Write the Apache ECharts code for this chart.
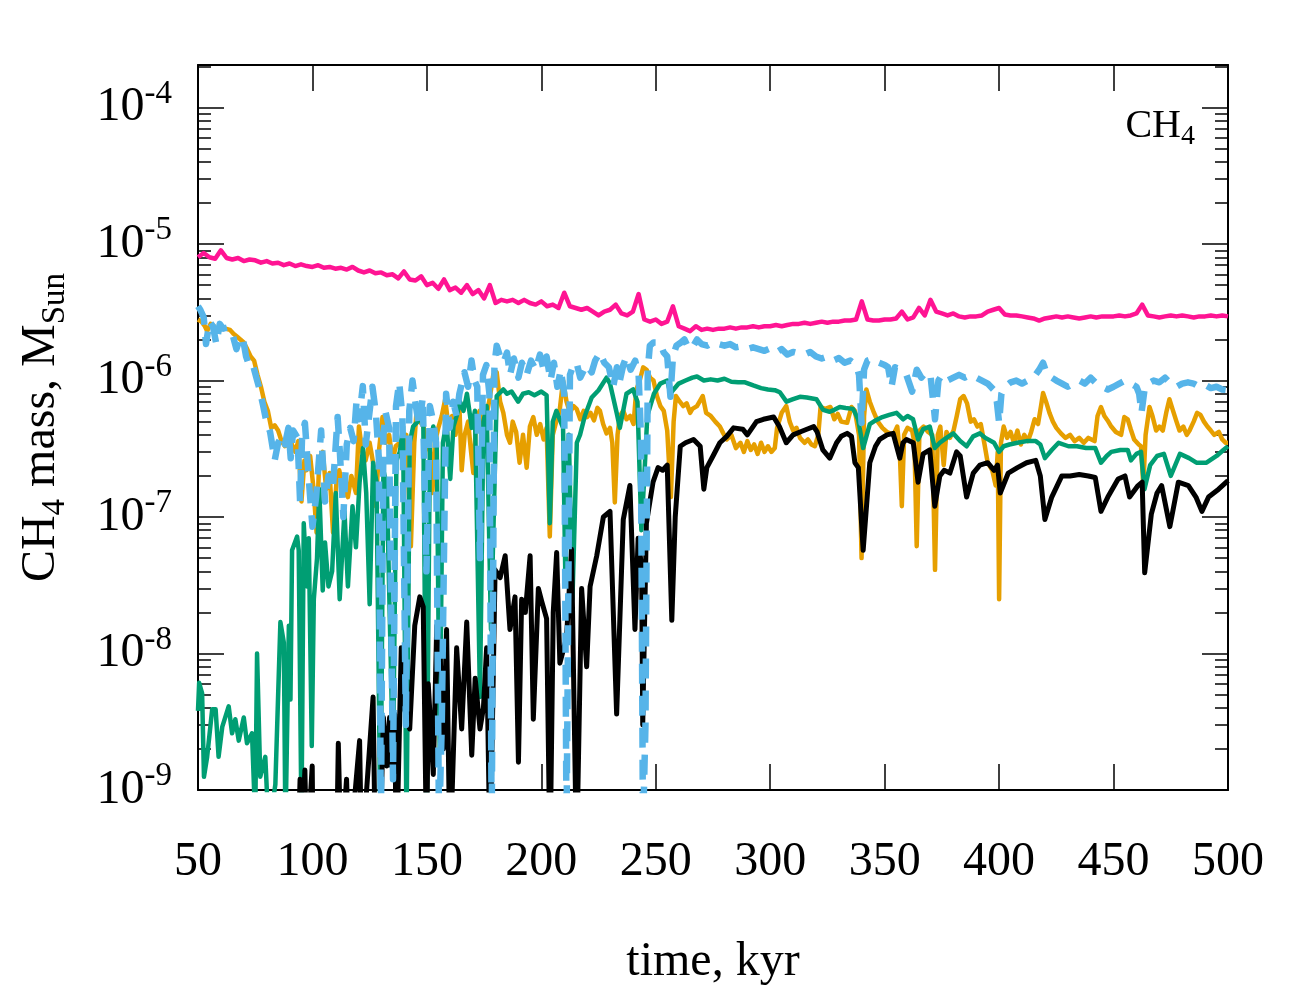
<!DOCTYPE html>
<html><head><meta charset="utf-8">
<script src="https://cdn.jsdelivr.net/npm/echarts@6.0.0/dist/echarts.min.js"></script>
<style>html,body{margin:0;padding:0;background:#fff}#c{width:1300px;height:1000px}</style>
</head><body><div id="c"></div>
<script>
// ---- tick values ----
const xTicks = [50,100,150,200,250,300,350,400,450,500];
const yDecades = [-9,-8,-7,-6,-5,-4]; // exponents of 10
const yTopValue = 2.05e-4;

// ---- series values: [time kyr, CH4 mass M_Sun] ----
const pinkData = [[50,8.0e-6],[52.5,8.6e-6],[55,8.0e-6],[57.5,7.8e-6],[60,9.0e-6],[62.5,7.9e-6],[65,7.7e-6],[67.5,7.9e-6],[70,7.5e-6],[72.5,7.7e-6],
[75,7.6e-6],[77.5,7.3e-6],[80,7.5e-6],[82.5,7.2e-6],[85,7.3e-6],[87.5,7.0e-6],[90,7.2e-6],[92.5,6.9e-6],[95,7.1e-6],[97.5,6.9e-6],
[100,6.8e-6],[102.5,7.0e-6],[105,6.7e-6],[107.5,6.8e-6],[110,6.6e-6],[112.5,6.7e-6],[115,6.5e-6],[117.5,6.8e-6],[120,6.4e-6],[122.5,6.2e-6],
[125,6.4e-6],[127.5,6.1e-6],[130,6.2e-6],[132.5,5.9e-6],[135,6.0e-6],[137.5,5.6e-6],[140,6.3e-6],[142.5,5.5e-6],[145,5.4e-6],[147.5,5.8e-6],
[150,5.0e-6],[152.5,5.2e-6],[155,4.7e-6],[157.5,5.5e-6],[160,4.6e-6],[162.5,4.8e-6],[165,4.4e-6],[167.5,5.0e-6],[170,4.3e-6],[172.5,4.6e-6],
[175,4.0e-6],[177.5,5.0e-6],[180,3.7e-6],[182.5,3.9e-6],[185,3.8e-6],[187.5,3.9e-6],[190,3.7e-6],[192.5,3.9e-6],[195,3.7e-6],[197.5,3.6e-6],
[200,3.8e-6],[202.5,3.5e-6],[205,3.6e-6],[207.5,3.4e-6],[210,4.4e-6],[212.5,3.5e-6],[215,3.4e-6],[217.5,3.3e-6],[220,3.4e-6],[222.5,3.2e-6],
[225,3.0e-6],[227.5,3.2e-6],[230,3.3e-6],[232.5,3.6e-6],[235,3.1e-6],[237.5,3.0e-6],[240,3.2e-6],[242.5,4.3e-6],[245,2.8e-6],[247.5,2.7e-6],
[250,2.8e-6],[252.5,2.6e-6],[255,2.7e-6],[257.5,3.5e-6],[260,2.5e-6],[262.5,2.4e-6],[265,2.3e-6],[267.5,2.5e-6],[270,2.35e-6],[272.5,2.4e-6],
[275,2.35e-6],[277.5,2.4e-6],[280,2.4e-6],[282.5,2.45e-6],[285,2.4e-6],[287.5,2.45e-6],[290,2.45e-6],[292.5,2.5e-6],[295,2.45e-6],[297.5,2.5e-6],
[300,2.5e-6],[302.5,2.55e-6],[305,2.5e-6],[307.5,2.55e-6],[310,2.6e-6],[312.5,2.6e-6],[315,2.65e-6],[317.5,2.6e-6],[320,2.65e-6],[322.5,2.7e-6],
[325,2.65e-6],[327.5,2.7e-6],[330,2.7e-6],[332.5,2.75e-6],[335,2.75e-6],[337.5,2.8e-6],[340,3.8e-6],[342.5,2.8e-6],[345,2.75e-6],[347.5,2.75e-6],
[350,2.8e-6],[352.5,2.8e-6],[355,2.85e-6],[357.5,3.2e-6],[360,2.8e-6],[362.5,2.9e-6],[365,3.4e-6],[367.5,3.0e-6],[370,3.9e-6],[372.5,3.2e-6],
[375,3.1e-6],[377.5,3.0e-6],[380,3.1e-6],[382.5,2.95e-6],[385,2.9e-6],[387.5,2.95e-6],[390,2.95e-6],[392.5,3.0e-6],[395,3.2e-6],[397.5,3.3e-6],
[400,3.4e-6],[402.5,3.05e-6],[405,3.0e-6],[407.5,3.0e-6],[410,2.95e-6],[412.5,2.9e-6],[415,2.85e-6],[417.5,2.75e-6],[420,2.85e-6],[422.5,2.9e-6],
[425,2.95e-6],[427.5,2.9e-6],[430,2.95e-6],[432.5,2.9e-6],[435,2.85e-6],[437.5,2.9e-6],[440,2.95e-6],[442.5,2.9e-6],[445,2.95e-6],[447.5,2.95e-6],
[450,2.95e-6],[452.5,3.0e-6],[455,2.95e-6],[457.5,3.0e-6],[460,3.1e-6],[462.5,3.6e-6],[465,3.0e-6],[467.5,2.95e-6],[470,2.9e-6],[472.5,2.95e-6],
[475,3.0e-6],[477.5,2.95e-6],[480,3.0e-6],[482.5,2.95e-6],[485,2.9e-6],[487.5,2.95e-6],[490,2.95e-6],[492.5,3.0e-6],[495,2.95e-6],[497.5,3.0e-6],[500,2.95e-6]];

const blueData = [[50,3.5e-6],[51,3.3e-6],[52.5,2.9e-6],[53.5,1.85e-6],[55,2.7e-6],[56.5,2.5e-6],[58,1.85e-6],[59.5,2.6e-6],[61,2.4e-6],[63,2.45e-6],
[65,2.2e-6],[66.8,1.7e-6],[68.5,2.1e-6],[69.7,2.0e-6],[71,1.5e-6],[72.5,1.27e-6],[74,1.3e-6],[75.5,1.05e-6],[77,8.5e-7],[78.5,6.5e-7],
[80,4.9e-7],[81.5,4.2e-7],[83.5,2.6e-7],[85,3.5e-7],[86.5,3.9e-7],[88,3.4e-7],[89.5,4.5e-7],[90.5,2.7e-7],[91.6,4.3e-7],[93.5,3.8e-7],
[94.6,1.3e-7],[95.5,4.0e-7],[96.7,4.9e-7],[98.5,1.8e-7],[100,8.5e-8],[101.6,1.4e-7],[103.8,4.3e-7],[105.5,1.3e-7],[107,2.0e-7],[108.9,1.6e-7],
[111,5.4e-7],[112,2.95e-7],[113.5,1.0e-7],[115,3.4e-7],[116.5,4.5e-7],[118,3.6e-7],[119.3,7.2e-7],[120.4,5.2e-7],[122,9.1e-7],[123.3,3.4e-7],
[125,6.0e-7],[126.2,9.0e-7],[127.7,5.8e-7],[129,2.7e-7],[129.9,5e-10],[131,4.0e-7],[132,5.8e-7],[133.5,4.5e-7],[135.2,1.2e-9],[136.5,6.5e-7],
[137.9,9.7e-7],[139.3,5.5e-7],[140.8,3e-9],[142.3,6.0e-7],[143.7,1.0e-6],[145.2,6.5e-7],[146.6,4.6e-7],[148.2,7.5e-7],[149.8,4e-8],[151.3,6.5e-7],
[152.8,5.0e-7],[154,3.5e-7],[155.3,5e-10],[156.5,3e-9],[158.4,8.0e-7],[160,4.5e-7],[161.5,7.0e-7],[163,5.5e-7],[164.2,8.0e-7],[166.4,1.15e-6],
[168,9.0e-7],[169.5,1.4e-6],[170.8,1.0e-6],[172,9e-7],[173.2,5e-8],[174.5,1.1e-6],[176,1.3e-6],[177.3,8e-7],[178.3,5e-10],[179.5,1.3e-6],
[180.5,1.8e-6],[182,1.5e-6],[183.4,1.35e-6],[185,1.6e-6],[186.3,1.1e-6],[188,1.45e-6],[190,1.05e-6],[191.5,1.35e-6],[193.6,1.1e-6],[195.5,1.4e-6],
[197.5,1.2e-6],[199.4,1.55e-6],[201,1.2e-6],[202.3,1.5e-6],[204,1.0e-6],[205.5,1.35e-6],[207,9e-7],[208.5,1.2e-6],[210,8e-7],[211,5e-10],
[212.5,1.1e-6],[214,1.3e-6],[215.4,1.35e-6],[217,1.05e-6],[219.7,1.3e-6],[222,1.15e-6],[223.5,1.4e-6],[225.6,1.6e-6],[227.5,1.35e-6],[229.5,1.25e-6],
[231.4,9e-7],[233,1.25e-6],[234.3,1.0e-6],[235.8,1.3e-6],[237.2,1.5e-6],[239,1.2e-6],[241,1.4e-6],[242.5,1.1e-6],[243.5,4e-7],[244.4,5e-10],
[245.5,3e-9],[246.5,1.2e-6],[247.4,1.8e-6],[249,1.9e-6],[251.7,1.9e-6],[253.5,1.6e-6],[255,1.5e-6],[256.4,7.6e-7],[257.5,1.5e-6],[259,1.8e-6],
[261,1.9e-6],[262.5,2.0e-6],[264.5,1.7e-6],[266.5,1.8e-6],[268,2.0e-6],[270,1.85e-6],[272.5,1.8e-6],[275,1.9e-6],[277.5,1.85e-6],[280,1.8e-6],
[282.5,1.85e-6],[285,1.75e-6],[287.5,1.78e-6],[290,1.7e-6],[292.5,1.75e-6],[295,1.7e-6],[297.5,1.65e-6],[300,1.72e-6],[302.5,1.6e-6],[305,1.7e-6],
[307.5,1.55e-6],[310,1.62e-6],[312.5,1.58e-6],[315,1.55e-6],[317.5,1.62e-6],[320,1.5e-6],[322.5,1.45e-6],[325,1.5e-6],[327.5,1.4e-6],[330,1.46e-6],
[332.5,1.35e-6],[335,1.4e-6],[337.5,1.3e-6],[338.8,1.1e-6],[339.9,4.9e-7],[341,1.2e-6],[342.5,1.4e-6],[345,1.45e-6],[347.5,1.35e-6],[350,1.3e-6],
[351.5,1.25e-6],[353,9e-7],[354.5,1.25e-6],[357,1.2e-6],[359.5,1.1e-6],[362,8.3e-7],[364,1.2e-6],[366,1.05e-6],[368,1.15e-6],[370,1.1e-6],
[372,5.2e-7],[373.5,1.0e-6],[375,1.1e-6],[377.5,1.0e-6],[380,1.05e-6],[382.5,1.1e-6],[385,1.05e-6],[387.5,1.1e-6],[390,1.05e-6],[392.5,1.0e-6],
[395,9.5e-7],[397.5,8.6e-7],[399,7e-7],[400,4.9e-7],[401,8e-7],[402.5,9e-7],[405,9.7e-7],[407.5,1.0e-6],[410,9.5e-7],[412.5,1.0e-6],
[415,1.05e-6],[417.5,1.2e-6],[419.2,1.35e-6],[421,1.1e-6],[423,1.05e-6],[425,1.0e-6],[427.5,9.5e-7],[430,9e-7],[432.5,9.5e-7],[435,1.0e-6],
[437.5,9.5e-7],[440,1.05e-6],[442.5,9.5e-7],[445,9e-7],[447.5,8.6e-7],[450,9e-7],[452.5,9.5e-7],[455,1.0e-6],[457.5,9.5e-7],[460,9e-7],
[461.2,8e-7],[462.2,5.8e-7],[463.5,8.5e-7],[465,9.5e-7],[467.5,1.0e-6],[470,9.7e-7],[472.5,1.05e-6],[475,9.5e-7],[477.5,9e-7],[480,9.5e-7],
[482.5,9.7e-7],[485,9.5e-7],[487.5,9e-7],[490,9.3e-7],[492.5,8.8e-7],[495,9e-7],[497.5,8.6e-7],[500,8.5e-7]];

const orangeData = [[50,2.8e-6],[51.5,2.7e-6],[53,2.5e-6],[54,2.3e-6],[55.5,2.6e-6],[57,2.5e-6],[58.5,2.3e-6],[60,2.45e-6],[62,2.4e-6],[64,2.35e-6],
[65.5,2.2e-6],[67,2.1e-6],[68.5,2.0e-6],[70,1.9e-6],[71.5,1.7e-6],[73,1.5e-6],[74.5,1.4e-6],[76,1.1e-6],[77.5,9e-7],[79,7e-7],
[80.5,6e-7],[82,4.5e-7],[83.5,4.7e-7],[85,4.3e-7],[86.5,3.6e-7],[88,3.3e-7],[89.5,4.0e-7],[91,3.4e-7],[92.5,3.0e-7],[93.8,3.6e-7],
[95.2,1.3e-7],[96.5,2.6e-7],[97.4,2.2e-7],[99,2.8e-7],[100.5,1.6e-7],[101.8,7.7e-8],[103,2.7e-7],[104.5,3.0e-7],[106,1.6e-7],[107.5,2.1e-7],
[109,7.7e-8],[110.5,1.8e-7],[111.7,2.2e-7],[113.5,1.6e-7],[115.5,1.4e-7],[117,2.0e-7],[119,1.5e-7],[120.3,4.6e-7],[121.8,3.0e-7],[123.2,2.6e-7],
[125,3.5e-7],[126.5,2.5e-7],[127.7,1.2e-7],[129,3.0e-7],[130.6,5.4e-7],[132,3.5e-7],[133.5,4.0e-7],[135,2.6e-7],[136.4,3.3e-7],[138,3.5e-7],
[139.3,3.2e-7],[141,4.0e-7],[143,6.1e-8],[144.5,3.5e-7],[145.5,6.0e-7],[147,5.0e-7],[148.5,4.6e-7],[150,3.5e-7],[151.3,3.0e-7],[152.4,1.5e-7],
[153.5,3.5e-7],[155,4.5e-7],[156.5,5.5e-7],[158,7.3e-7],[159.5,4.5e-7],[161,5.5e-7],[162.5,4.0e-7],[164.2,6.5e-7],[165.2,2.2e-7],[166.5,4.0e-7],
[168,5.0e-7],[169.3,3.0e-7],[170.3,2.1e-7],[171.5,5.0e-7],[173,6.0e-7],[174.5,4.5e-7],[176,5.5e-7],[177.5,7.5e-7],[179,1.1e-6],[180.5,1.15e-6],
[182,7.0e-7],[183.4,5.8e-7],[185,4.0e-7],[186.3,3.5e-7],[187.5,5.0e-7],[189,4.2e-7],[190.5,2.5e-7],[192,4.0e-7],[193.6,2.3e-7],[195,4.6e-7],
[196.5,5.4e-7],[198,4.0e-7],[199.5,4.8e-7],[201,3.7e-7],[202.3,4.5e-7],[203.7,7.2e-8],[205,4.0e-7],[206.5,5.0e-7],[208,6.0e-7],[209.5,1.0e-6],
[211,7.0e-7],[212.5,5.8e-7],[214,6.5e-7],[215.4,6.2e-7],[217,5.2e-7],[218.5,6.0e-7],[220,5.4e-7],[221.5,5.8e-7],[223,5.1e-7],[224.5,6.3e-7],
[225.6,6.0e-7],[227,4.8e-7],[228.5,4.1e-7],[230,4.5e-7],[231,3.5e-7],[232.1,1.28e-7],[233.3,4.0e-7],[234.3,5.5e-7],[235.8,6.0e-7],[237.2,5.2e-7],
[238.8,5.5e-7],[240.3,4.8e-7],[241.5,8.6e-7],[243,1.0e-6],[244.5,1.25e-6],[246,1.2e-6],[247.5,1.05e-6],[249,1.0e-6],[250.5,7.7e-7],[252,6.5e-7],
[253.5,6.0e-7],[255,4.3e-7],[256.6,1.4e-7],[257.8,5e-7],[258.8,7.7e-7],[260.5,7.0e-7],[262,6.5e-7],[263.5,6.8e-7],[265,5.8e-7],[266,6.2e-7],
[268,6.5e-7],[270.5,7.7e-7],[272,5.8e-7],[274,5.5e-7],[276,5.0e-7],[278,4.6e-7],[279.5,4.1e-7],[281,3.7e-7],[283,4.0e-7],[285,3.2e-7],
[287,3.5e-7],[288.5,3.0e-7],[290,3.6e-7],[291.5,3.1e-7],[293,3.4e-7],[294.5,2.9e-7],[296,3.5e-7],[297.5,3.0e-7],[299,3.3e-7],[300.5,3.0e-7],
[302,3.2e-7],[303,4.5e-7],[305,5.8e-7],[307,6.5e-7],[308.5,5.0e-7],[310,4.3e-7],[311.5,4.5e-7],[313,3.8e-7],[315,3.5e-7],[316.5,3.7e-7],
[318,3.4e-7],[319.5,3.3e-7],[321,4.0e-7],[322,6.4e-7],[324,6.2e-7],[326.3,6.4e-7],[328,5.2e-7],[329.5,5.7e-7],[331,5.0e-7],[333.6,4.9e-7],
[335.5,6.4e-7],[337,6.0e-7],[338.8,4.0e-7],[339.9,5.0e-8],[341,5.5e-7],[342,8.6e-7],[343.5,7.0e-7],[345,6.0e-7],[347,5.0e-7],[349,4.5e-7],
[351,4.2e-7],[353.8,4.0e-7],[355.5,4.6e-7],[356.6,3.0e-7],[357.5,1.2e-7],[358.5,4.0e-7],[360,4.5e-7],[362,4.3e-7],[363,3.5e-7],[364,6.1e-8],
[365.2,4.3e-7],[367,4.6e-7],[369,4.2e-7],[370.8,4.0e-7],[372,4.1e-8],[373.2,4.0e-7],[374.3,4.6e-7],[375.8,2.4e-7],[377,4.2e-7],[378.5,3.8e-7],
[380.1,4.3e-7],[381.5,5.5e-7],[383,7.3e-7],[384.5,7.7e-7],[386,6.8e-7],[387.6,5.0e-7],[389,5.2e-7],[390.5,4.6e-7],[392,4.8e-7],[393.5,3.5e-7],
[395,2.5e-7],[397,2.2e-7],[398.5,1.7e-7],[399.4,3.0e-7],[400,2.5e-8],[400.8,3.5e-7],[402,4.6e-7],[403.5,3.8e-7],[405,4.2e-7],[406.5,3.5e-7],
[408,4.3e-7],[409.5,3.4e-7],[411,4.0e-7],[412.6,3.6e-7],[414,4.2e-7],[415.5,5.2e-7],[417,4.8e-7],[418.3,6.5e-7],[419.2,8.1e-7],[420.5,7.0e-7],
[422,5.8e-7],[423.5,5.0e-7],[425,4.5e-7],[427,4.1e-7],[429,3.8e-7],[431,4.0e-7],[433,3.6e-7],[435,3.8e-7],[437,3.5e-7],[439,3.8e-7],
[441.7,3.6e-7],[443,5.5e-7],[444.5,6.4e-7],[446,5.5e-7],[447.4,5.1e-7],[449,4.6e-7],[451,4.2e-7],[453.3,4.0e-7],[454.7,5.4e-7],[456.2,5.2e-7],
[457.5,4.4e-7],[459,3.7e-7],[461,3.4e-7],[462,3.3e-7],[463,1.7e-7],[464,4.0e-7],[465.7,6.4e-7],[467,5.5e-7],[468.6,4.3e-7],[470,4.6e-7],
[471.5,4.3e-7],[473,5.8e-7],[474.4,7.3e-7],[476,6.0e-7],[477.5,5.0e-7],[478.8,4.3e-7],[480.5,4.6e-7],[482,4.0e-7],[483.2,4.3e-7],[485,5.0e-7],
[486.5,5.8e-7],[488,5.6e-7],[489.5,5.0e-7],[491,4.6e-7],[492.5,4.3e-7],[494,4.0e-7],[496,4.2e-7],[497.5,3.7e-7],[499,3.5e-7],[500,3.5e-7]];

const greenData = [[50,3.8e-9],[50.5,6.1e-9],[51.8,5.1e-9],[52.6,1.25e-9],[54,1.75e-9],[56.2,3.9e-9],[57.7,3.9e-9],[59,1.75e-9],[60.6,2.9e-9],[63.4,4.1e-9],
[64.9,2.6e-9],[66.3,3.3e-9],[67.8,2.3e-9],[70,3.4e-9],[71.4,2.2e-9],[73.6,2.6e-9],[75,6e-10],[75.8,1e-8],[77.2,1.25e-9],[79.4,1.75e-9],
[80.9,5e-10],[83.8,1.1e-9],[86,1.7e-8],[87.5,1.2e-8],[88.2,5e-10],[89.7,1.6e-8],[90.4,4.6e-9],[91.1,5.7e-8],[93.3,7.2e-8],[94,5.7e-8],
[95.2,6e-10],[96.2,9e-8],[97.6,3.1e-8],[98.4,7e-8],[99.7,2.1e-9],[100.6,2.5e-8],[102,5e-8],[103,1.6e-7],[104.5,2.9e-8],[105.5,6.5e-8],
[107,3.1e-8],[108.6,4e-8],[110.2,1.5e-7],[111.9,2.5e-8],[114,1.1e-7],[115.5,3.1e-8],[117.5,1.2e-7],[119,6e-8],[120.6,1.8e-7],[122.1,3.2e-7],
[123.5,1.5e-7],[125,2.3e-8],[126.5,2.5e-7],[128,1.8e-7],[129.7,5e-10],[131,2.2e-7],[132.5,1.7e-7],[135.2,1.6e-9],[136.7,2.6e-7],[138.2,3e-7],
[139.6,4.6e-7],[141.1,5e-10],[142.5,3.5e-7],[144,4.6e-7],[146,5e-7],[148.4,6e-7],[149.9,5e-10],[151.3,3.5e-7],[152.8,4.6e-7],[154.3,3.7e-7],
[155.6,2e-9],[157,3.5e-7],[158.6,5e-7],[160.2,1.9e-7],[161.6,4.6e-7],[163,5.5e-7],[164.5,7e-7],[166,6e-7],[167.5,8e-7],[169.6,4.5e-7],
[171,6e-7],[173.2,4.8e-9],[174.7,5e-7],[176.1,6.5e-7],[178,1.5e-8],[180.5,7.7e-7],[183.4,8.6e-7],[185,8e-7],[187,8.3e-7],[189.9,7e-7],
[192,8e-7],[194.5,8.2e-7],[197,7.8e-7],[200,8.3e-7],[202.3,7.8e-7],[203.7,9e-8],[205,5e-7],[206.6,6e-7],[209.5,4.5e-7],[210.5,3.5e-8],
[212,4e-7],[213.6,2.5e-8],[215.5,3.5e-7],[216.9,4e-7],[219,5.5e-7],[222,7.5e-7],[225,8.5e-7],[228.5,1.05e-6],[230,9.5e-7],[232.9,5.8e-7],
[234.3,4.5e-7],[237.2,8e-7],[240.1,8.6e-7],[242,7e-7],[243.7,8e-8],[245,2e-7],[246.3,5.5e-7],[249.2,8e-7],[252,9.5e-7],[255,1e-6],
[256.4,8e-7],[257.8,8.6e-7],[260,9.5e-7],[263,1e-6],[266,1.05e-6],[268,1.07e-6],[271,1e-6],[274,1.02e-6],[277,1e-6],[280,1.03e-6],
[283,9.8e-7],[286,9.7e-7],[289,9.7e-7],[292.6,9.2e-7],[296,8.8e-7],[299,8.6e-7],[302,8.5e-7],[304.2,8.2e-7],[307.1,7e-7],[310,7.3e-7],
[313,7.6e-7],[316,7.5e-7],[320.2,7.3e-7],[323.1,6.1e-7],[326,5.9e-7],[328,6.1e-7],[330.4,6.4e-7],[333,6.3e-7],[336.2,6.2e-7],[338.4,5.2e-7],
[340.6,3.2e-7],[343.5,4.8e-7],[346,5.1e-7],[349,5.4e-7],[352,5.6e-7],[355.2,5.8e-7],[358.1,5.2e-7],[360,5.5e-7],[362.4,5.2e-7],[364.6,3.7e-7],
[366.8,4.4e-7],[369.7,4.6e-7],[371.9,3.2e-7],[374.1,3.5e-7],[377,3.8e-7],[380,4.1e-7],[383,3.6e-7],[385.8,3.3e-7],[388.7,3.9e-7],[391.6,4.1e-7],
[394,3.8e-7],[397.8,3.5e-7],[400,3.0e-7],[402,3.3e-7],[404.5,3.4e-7],[408,3.5e-7],[412,3.6e-7],[416,3.6e-7],[418,3.4e-7],[420,2.7e-7],
[423,3.1e-7],[426,3.5e-7],[430.3,3.3e-7],[434,3.3e-7],[438,3.2e-7],[442,3.2e-7],[444.5,2.5e-7],[447,2.8e-7],[449,3.0e-7],[453,3.1e-7],
[456.2,3.1e-7],[457.6,2.6e-7],[460,2.9e-7],[462,3.0e-7],[463.5,1.6e-7],[466,2.4e-7],[469,2.8e-7],[472,2.9e-7],[475,2.0e-7],[479,2.9e-7],
[483,2.7e-7],[486.2,2.5e-7],[490.6,2.5e-7],[495,2.8e-7],[498,3.1e-7],[500,3.3e-7]];

const blackData = [[50,3e-10],[93.5,3e-10],[94.6,1.2e-9],[95.5,5e-10],[96.7,1.4e-9],[97.5,3e-10],[99.9,1.5e-9],[100.3,3e-10],[110.5,3e-10],[111.3,2.2e-9],
[112.5,3e-10],[114.9,1.2e-9],[116,3e-10],[120.6,2.3e-9],[121.5,3e-10],[126.5,4.8e-9],[127.5,3e-10],[129.4,3e-10],[131,3.4e-9],[132.5,1.5e-9],
[133.7,3.4e-9],[134.5,1.5e-9],[135.9,3.6e-9],[136.7,3e-10],[138.8,1.1e-8],[140.3,3.9e-9],[142.5,2.8e-9],[144.7,1.6e-8],[146.9,2.6e-8],[148.4,2.2e-8],
[149.9,3e-10],[150.6,6e-9],[152.8,1.3e-9],[154.3,1.6e-8],[155.7,1.1e-8],[157.2,2e-9],[158.6,1.5e-8],[160.1,3e-10],[163,1.1e-8],[165.2,2.8e-9],
[167.4,1.7e-8],[169.6,1.8e-9],[171.1,6.6e-9],[173.2,2.8e-9],[174.7,4e-9],[176.1,1.1e-8],[177.6,3e-10],[179.8,4.1e-8],[182,3.6e-8],[184.2,5.2e-8],
[186.3,1.5e-8],[188.5,2.6e-8],[190,1.6e-9],[191.4,2.5e-8],[193,2.0e-8],[195.1,5.2e-8],[196.5,3.3e-9],[198.7,3e-8],[200.2,2.4e-8],[202.3,1.8e-8],
[203.8,3e-10],[205.2,2e-8],[206.7,5.5e-8],[208.1,8.5e-9],[211,1.3e-8],[213.2,5.8e-8],[215.4,3e-10],[217.6,3e-8],[219.8,8e-9],[221.3,3.1e-8],
[224.2,5.2e-8],[227.1,1e-7],[230,1.1e-7],[232.9,3.6e-9],[235.8,9.6e-8],[238.7,1.7e-7],[240.9,1.5e-8],[242.3,7e-8],[243.8,4.3e-8],[244.3,3e-9],
[245.9,9e-8],[248.8,1.8e-7],[251,2.3e-7],[253,2.2e-7],[255,2.4e-7],[257,1.75e-8],[258.5,1.0e-7],[260.7,3.3e-7],[263,3.5e-7],[266.5,3.7e-7],
[269.4,3.3e-7],[271,1.6e-7],[272.3,2.3e-7],[275,2.8e-7],[278,3.5e-7],[281,3.9e-7],[284,4.5e-7],[288,4.4e-7],[290,4.0e-7],[294,5e-7],
[297,5.2e-7],[301.5,5.4e-7],[304,4.6e-7],[307,3.5e-7],[310,4.0e-7],[313,4.2e-7],[316,4.4e-7],[319,4.6e-7],[320.5,4.2e-7],[323,3.1e-7],
[326,2.7e-7],[329,3.5e-7],[331,3.9e-7],[333.6,4.1e-7],[335.5,3.9e-7],[337,2.5e-7],[338.5,2.3e-7],[340.6,5.7e-8],[343.5,2.5e-7],[346,3.3e-7],
[347.8,3.7e-7],[351,4.0e-7],[353.7,4.1e-7],[356.6,2.7e-7],[358,3.5e-7],[359.5,3.7e-7],[362.5,3.5e-7],[364.6,1.8e-7],[366.8,2.9e-7],[369.7,3.1e-7],
[371.9,1.2e-7],[374.1,2.0e-7],[376,2.2e-7],[378.5,2.1e-7],[381.4,3.0e-7],[383,2.8e-7],[385.8,1.4e-7],[388.7,2.1e-7],[391.6,2.4e-7],[395,2.5e-7],
[397.8,2.2e-7],[399.3,2.4e-7],[400.5,1.5e-7],[404,2.1e-7],[408,2.3e-7],[412,2.5e-7],[416,2.6e-7],[418,2.0e-7],[420,9.6e-8],[423,1.4e-7],
[427.4,2.0e-7],[431,2.0e-7],[435,2.05e-7],[439,2.0e-7],[442,1.95e-7],[444.5,1.1e-7],[447.5,1.4e-7],[452,1.9e-7],[455,2.0e-7],[457,1.4e-7],
[460.7,1.7e-7],[462.5,1.8e-7],[463.6,3.9e-8],[466.5,1.05e-7],[469,1.5e-7],[471,1.7e-7],[474.6,8.5e-8],[478.3,1.8e-7],[482.7,1.7e-7],[486,1.4e-7],
[488.6,1.1e-7],[491.5,1.4e-7],[495.9,1.6e-7],[500,1.85e-7]];

// ---- rendering ----
const FONT = 'Liberation Serif';
const Y_MIN = yDecades[0];
const Y_MAX = Math.log10(yTopValue);
const toLog = d => d.map(p => [p[0], Math.log10(p[1])]);
const minorTicks = [];
yDecades.forEach(n => { for (let k = 2; k <= 9; k++) { const v = n + Math.log10(k); if (v <= Y_MAX) minorTicks.push(v); } });

const axisLineStyle = {show: true, lineStyle: {color: '#000', width: 2}};
const tickStyle = {color: '#000', width: 1.5};

const yBase = {type: 'value', min: Y_MIN, max: Y_MAX, splitLine: {show: false}};
const xBase = {type: 'value', min: xTicks[0], max: xTicks[xTicks.length - 1], interval: 50, splitLine: {show: false}};

function mk(name, data, color, width, lineType, z) {
  return {
    name, type: 'line', data: toLog(data), xAxisIndex: 0, yAxisIndex: 0,
    symbol: 'none', showSymbol: false, clip: true, silent: true, z: z,
    lineStyle: {color: color, width: width, type: lineType, cap: 'butt', join: 'round'}
  };
}

const chart = echarts.init(document.getElementById('c'), null, {renderer: 'canvas'});
chart.setOption({
  animation: false,
  backgroundColor: '#fff',
  grid: {left: 198, right: 72, top: 65, bottom: 210},
  title: {
    text: '{m|CH}{s|4}', right: 105, top: 101, padding: 0,
    textStyle: {fontWeight: 'normal', rich: {
      m: {fontFamily: FONT, fontSize: 40, lineHeight: 50, fontWeight: 'normal', color: '#000'},
      s: {fontFamily: FONT, fontSize: 28, lineHeight: 28, fontWeight: 'normal', verticalAlign: 'bottom', color: '#000'}
    }}
  },
  xAxis: [
    Object.assign({}, xBase, {
      position: 'bottom', axisLine: axisLineStyle,
      axisTick: {inside: true, length: 26, lineStyle: tickStyle, customValues: xTicks},
      axisLabel: {fontFamily: FONT, fontSize: 48, color: '#000', margin: 48, customValues: xTicks},
      name: 'time, kyr', nameLocation: 'middle', nameGap: 148,
      nameTextStyle: {fontFamily: FONT, fontSize: 48, color: '#000'}
    }),
    Object.assign({}, xBase, {
      position: 'top', axisLine: axisLineStyle,
      axisTick: {inside: true, length: 26, lineStyle: tickStyle, customValues: xTicks},
      axisLabel: {show: false}
    })
  ],
  yAxis: [
    Object.assign({}, yBase, {
      position: 'left', axisLine: axisLineStyle,
      axisTick: {inside: true, length: 26, lineStyle: tickStyle, customValues: yDecades},
      axisLabel: {
        customValues: yDecades, margin: 26,
        formatter: v => '{b|10}{p|' + v + '}',
        rich: {
          b: {fontFamily: FONT, fontSize: 48, lineHeight: 60, color: '#000'},
          p: {fontFamily: FONT, fontSize: 33, lineHeight: 36, verticalAlign: 'top', color: '#000'}
        }
      },
      name: '{m|CH}{s|4}{m| mass, M}{s|Sun}', nameLocation: 'middle', nameRotate: 90, nameGap: 126,
      nameTextStyle: {rich: {
        m: {fontFamily: FONT, fontSize: 48, lineHeight: 62, color: '#000'},
        s: {fontFamily: FONT, fontSize: 33, lineHeight: 33, verticalAlign: 'bottom', color: '#000'}
      }}
    }),
    Object.assign({}, yBase, {
      position: 'left', axisLine: {show: false},
      axisTick: {inside: true, length: 13, lineStyle: tickStyle, customValues: minorTicks},
      axisLabel: {show: false}
    }),
    Object.assign({}, yBase, {
      position: 'right', axisLine: axisLineStyle,
      axisTick: {inside: true, length: 26, lineStyle: tickStyle, customValues: yDecades},
      axisLabel: {show: false}
    }),
    Object.assign({}, yBase, {
      position: 'right', axisLine: {show: false},
      axisTick: {inside: true, length: 13, lineStyle: tickStyle, customValues: minorTicks},
      axisLabel: {show: false}
    })
  ],
  series: [
    mk('orange', orangeData, '#e69f00', 4.5, 'solid', 2),
    mk('green', greenData, '#009e73', 4.5, 'solid', 3),
    mk('black', blackData, '#000000', 5, 'solid', 4),
    mk('blue', blueData, '#56b4e9', 6.5, [20, 12], 5),
    mk('pink', pinkData, '#ff1493', 4.5, 'solid', 6)
  ]
});
</script>
</body></html>
